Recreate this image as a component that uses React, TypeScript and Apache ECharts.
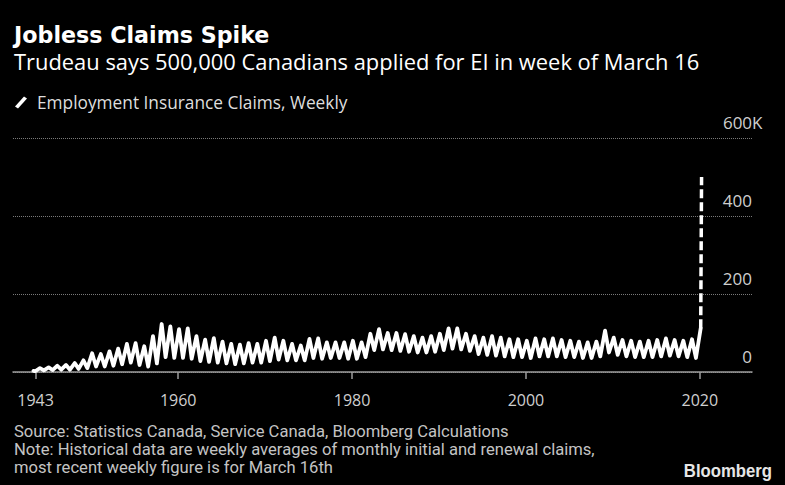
import React, { useEffect, useRef } from "react";
import * as echarts from "echarts";

// ---- Data (values in thousands) ----
const seriesName = "Employment Insurance Claims, Weekly";
const startPoint: [number, number] = [1943.35, 3];
// summer lows for years 1943..2019
const lowYears0 = 1943;
const lows = [
  2, 4, 5, 6, 6, 8, 10, 14, 14, 16,
  20, 24, 18, 14, 22, 38, 36, 36, 34, 28,
  26, 24, 22, 20, 22, 24, 24, 28, 32, 30,
  30, 30, 36, 34, 36, 36, 34, 34, 38, 56,
  58, 56, 54, 52, 50, 50, 52, 56, 60, 58,
  54, 46, 44, 42, 40, 38, 38, 36, 40, 40,
  40, 38, 38, 36, 36, 40, 50, 44, 40, 38,
  38, 38, 40, 42, 40, 38, 36,
];
// winter peaks for years 1944..2020
const highYears0 = 1944;
const highs = [
  10, 12, 16, 18, 23, 30, 48, 46, 53, 60,
  72, 74, 66, 92, 123, 117, 110, 112, 92, 83,
  87, 78, 72, 70, 74, 72, 80, 88, 80, 72,
  68, 85, 86, 76, 76, 76, 80, 76, 98, 110,
  100, 100, 97, 92, 88, 92, 98, 112, 112, 98,
  92, 88, 92, 88, 84, 84, 80, 86, 84, 86,
  82, 80, 78, 76, 78, 106, 88, 82, 80, 78,
  80, 82, 86, 82, 80, 84, 112,
];
// latest weekly figure (week of March 16, 2020)
const spikeX = [2020.1, 2020.2];
const spikeY = [112, 500];
// axes
const xTickValues = [1943.6, 1960, 1980, 2000, 2020];
const yMin = 0;
const yMax = 600;
const yStep = 200;
const sourceLines = [
  "Source: Statistics Canada, Service Canada, Bloomberg Calculations",
  "Note: Historical data are weekly averages of monthly initial and renewal claims,",
  "most recent weekly figure is for March 16th",
];

export default function App() {
  const ref = useRef<HTMLDivElement>(null);

  useEffect(() => {
    if (!ref.current) return;
    const chart = echarts.init(ref.current, null, { renderer: "svg" });

    const mainData: [number, number][] = [startPoint];
    for (let i = 0; i < lows.length; i++) {
      mainData.push([lowYears0 + i + 0.55, lows[i]]);
      if (i < highs.length) mainData.push([highYears0 + i + 0.1, highs[i]]);
    }
    const spikeData = spikeX.map((x, i) => [x, spikeY[i]]);

    const sans = "'Open Sans', sans-serif";

    chart.setOption({
      animation: false,
      backgroundColor: "#000000",
      grid: { left: 13, right: 33, top: 138, bottom: 113, containLabel: false, outerBoundsMode: "none" },
      legend: {
        show: true,
        data: [seriesName],
        left: 15,
        top: 94,
        padding: 0,
        itemWidth: 12,
        itemHeight: 12,
        icon: "path://M0,10 L9,0 L12,2 L3,12 Z",
        textStyle: { color: "#dedede", fontSize: 17.3, fontFamily: sans, padding: [0, 0, 0, 5] },
        selectedMode: false,
      },
      xAxis: {
        type: "value",
        min: 1941,
        max: 2026,
        splitLine: { show: false },
        axisLine: { show: true, onZero: false, lineStyle: { color: "#9c9c9c", width: 1.5 } },
        axisTick: { show: true, customValues: xTickValues, length: 7, lineStyle: { color: "#9c9c9c", width: 1.5 } },
        axisLabel: {
          customValues: xTickValues,
          formatter: (v: number) => String(Math.floor(v)),
          color: "#cfcfcf",
          fontSize: 16,
          fontFamily: sans,
          margin: 20,
        },
      },
      yAxis: {
        type: "value",
        position: "right",
        min: yMin,
        max: yMax,
        interval: yStep,
        axisLine: { show: false },
        axisTick: { show: false },
        splitLine: { show: true, lineStyle: { color: "#7a7a7a", type: "dotted", width: 1 } },
        axisLabel: {
          inside: true,
          margin: 29,
          align: "left",
          verticalAlign: "bottom",
          padding: [0, 0, 7, 0],
          formatter: (v: number) => (v === yMax ? `{n|${v}}{k|K}` : `{n|${v}}`),
          rich: {
            n: { width: 29, align: "right", color: "#cfcfcf", fontSize: 17, fontFamily: sans },
            k: { color: "#cfcfcf", fontSize: 17, fontFamily: sans },
          },
        },
      },
      series: [
        {
          name: seriesName,
          type: "line",
          data: mainData,
          showSymbol: false,
          symbol: "none",
          color: "#ffffff",
          lineStyle: { color: "#ffffff", width: 3.8, join: "round", cap: "round" },
          z: 3,
        },
        {
          name: "Latest weekly",
          type: "line",
          data: spikeData,
          showSymbol: false,
          symbol: "none",
          color: "#ffffff",
          lineStyle: { color: "#ffffff", width: 3.5, type: [9, 4] },
          z: 3,
        },
      ],
      graphic: [
        {
          type: "text",
          x: 14,
          y: 35,
          style: {
            text: "Jobless Claims Spike",
            fill: "#ffffff",
            fontSize: 22.2,
            fontWeight: "bold",
            fontFamily: "'DejaVu Sans', sans-serif",
            verticalAlign: "middle",
          },
        },
        {
          type: "text",
          x: 14,
          y: 61,
          style: {
            text: "Trudeau says 500,000 Canadians applied for EI in week of March 16",
            fill: "#ffffff",
            fontSize: 21.9,
            fontFamily: sans,
            verticalAlign: "middle",
          },
        },
        ...sourceLines.map((t, i) => ({
          type: "text",
          x: 14,
          y: 431 + i * 18,
          style: {
            text: t,
            fill: "#c4c4c4",
            fontSize: 16.6,
            fontFamily: "Roboto, sans-serif",
            verticalAlign: "middle",
          },
        })),
        {
          type: "text",
          x: 772,
          y: 471,
          scaleX: 0.88,
          originX: 0,
          originY: 0,
          style: {
            text: "Bloomberg",
            fill: "#e6e6e6",
            fontSize: 19,
            fontWeight: "bold",
            fontFamily: "'Liberation Sans', Arial, sans-serif",
            align: "right",
            verticalAlign: "middle",
          },
        },
      ],
    });

    return () => chart.dispose();
  }, []);

  return (
    <div
      ref={ref}
      style={{ position: "fixed", left: 0, top: 0, width: 785, height: 485, background: "#000" }}
    />
  );
}
